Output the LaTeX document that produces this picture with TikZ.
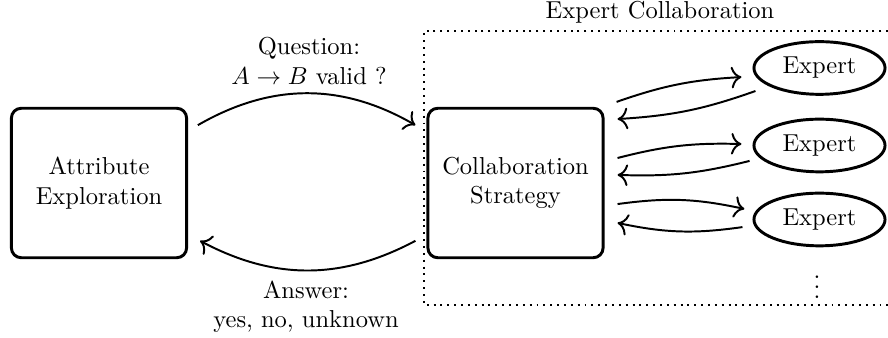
\documentclass[tikz,border=0pt]{standalone}
\usetikzlibrary{shapes.geometric,arrows.meta}
\begin{document}
\begin{tikzpicture}[x=0.408163pt,y=0.408163pt,
  boxnode/.style={draw,very thick,rounded corners=4pt,minimum width=71.5pt,minimum height=61pt,align=center,inner sep=0pt},
  expnode/.style={draw,very thick,ellipse,minimum width=53.5pt,minimum height=21.5pt,inner sep=0pt},
  arr/.style={-{To[scale=1.25]},thick},
  lab/.style={align=center,inner sep=0pt}]
\useasboundingbox (0,0) rectangle (888,338);
\clip (0,0) rectangle (888,338);
% dotted region
\draw[thick,dotted] (895,307) -- (424,307) -- (424,33) -- (895,33);
\node[lab] (ectitle) at (660,326) {Expert Collaboration};
% boxes
\node[boxnode] (ae) at (99,155) {Attribute\\Exploration};
\node[boxnode] (cs) at (515.5,155) {Collaboration\\Strategy};
% experts
\node[expnode] (e1) at (819.5,270) {Expert};
\node[expnode] (e2) at (819.5,192.5) {Expert};
\node[expnode] (e3) at (819.5,118.5) {Expert};
\node[inner sep=0pt] (vd) at (817,58) {$\vdots$};
% main arrows
\draw[arr] ([xshift=4pt]ae.33) to[bend left=30] ([xshift=-4.5pt]cs.147);
\draw[arr] ([xshift=-4.5pt]cs.213) to[bend left=28] ([xshift=4.9pt]ae.327);
\node[lab] (qlab) at (309,277) {Question:\\$A\rightarrow B$ valid ?};
\node[lab] (alab) at (306,31) {Answer:\\yes, no, unknown};
% expert arrows
\draw[arr] ([shift={(4.9pt,33.1pt)}]cs.east) to[bend left=8] ([shift={(-4.5pt,-3.7pt)}]e1.west);
\draw[arr] ([shift={(1.2pt,-9.4pt)}]e1.west) to[bend left=8] ([shift={(5.3pt,26.1pt)}]cs.east);
\draw[arr] ([shift={(5.3pt,10.2pt)}]cs.east) to[bend left=8] ([shift={(-4.5pt,0.6pt)}]e2.west);
\draw[arr] ([shift={(-1.2pt,-6.3pt)}]e2.west) to[bend left=8] ([shift={(5.3pt,3.3pt)}]cs.east);
\draw[arr] ([shift={(5.3pt,-8.6pt)}]cs.east) to[bend left=10] ([shift={(-3.3pt,4.3pt)}]e3.west);
\draw[arr] ([shift={(-4.1pt,-3.1pt)}]e3.west) to[bend left=10] ([shift={(5.3pt,-16.3pt)}]cs.east);
\end{tikzpicture}
\end{document}
